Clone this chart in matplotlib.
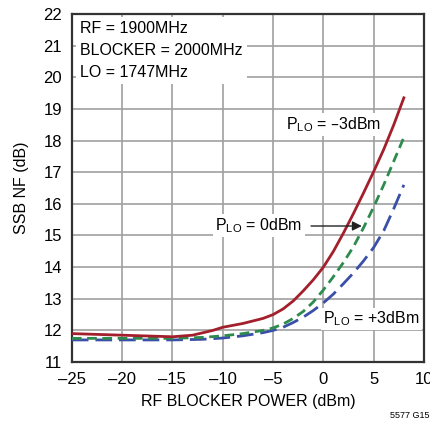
import matplotlib.pyplot as plt

plt.rcParams["font.family"] = ["Liberation Sans Narrow", "Liberation Sans", "DejaVu Sans"]

# RF blocker power (dBm) and SSB NF (dB)
x_m3 = [-25, -20, -15, -13, -11, -10, -8, -6, -5, -4, -3, -2, -1, 0, 1, 2, 3, 4, 5, 6, 7, 8]
nf_m3 = [11.9, 11.85, 11.8, 11.85, 12.0, 12.1, 12.22, 12.38, 12.5, 12.68, 12.93, 13.25, 13.6, 14.0,
         14.5, 15.08, 15.7, 16.35, 17.02, 17.72, 18.5, 19.35]

x_0 = [-25, -20, -15, -12, -10, -8, -6, -5, -4, -3, -2, -1, 0, 1, 2, 3, 4, 5, 6, 7, 8]
nf_0 = [11.75, 11.75, 11.75, 11.78, 11.83, 11.9, 12.0, 12.08, 12.2, 12.38, 12.6, 12.9, 13.28,
        13.7, 14.15, 14.65, 15.25, 15.9, 16.6, 17.35, 18.1]

x_p3 = [-25, -20, -15, -12, -10, -8, -6, -5, -4, -3, -2, -1, 0, 1, 2, 3, 4, 5, 6, 7, 8]
nf_p3 = [11.7, 11.7, 11.7, 11.72, 11.76, 11.83, 11.93, 12.0, 12.1, 12.25, 12.42, 12.63, 12.87,
         13.15, 13.48, 13.82, 14.2, 14.62, 15.15, 15.85, 16.6]

xticks = [-25, -20, -15, -10, -5, 0, 5, 10]
yticks = list(range(11, 23))

fig = plt.figure(figsize=(4.3, 4.23), dpi=100)
ax = fig.add_axes([0.167, 0.144, 0.819, 0.823])

ax.plot(x_m3, nf_m3, "-", color="#a31f2b", lw=2.0, zorder=5)
ax.plot(x_0, nf_0, "--", color="#2e8b4e", lw=2.0, dashes=(3.5, 2), zorder=4)
ax.plot(x_p3, nf_p3, "--", color="#3a4fa8", lw=2.0, dashes=(6, 2.5), zorder=3)

ax.set_xlim(-25, 10)
ax.set_ylim(11, 22)
ax.set_xticks(xticks)
ax.set_yticks(yticks)
ax.set_xticklabels([str(t).replace("-", "\u2013") for t in xticks])
ax.tick_params(length=0, labelsize=12, pad=7)
ax.grid(True, color="#a0a0a0", lw=1.2, zorder=0)
for s in ax.spines.values():
    s.set_linewidth(1.6)
    s.set_color("#333333")

ax.set_xlabel("RF BLOCKER POWER (dBm)", fontsize=11.5, labelpad=5)
ax.set_ylabel("SSB NF (dB)", fontsize=11.5, labelpad=10)

box = dict(facecolor="white", edgecolor="none", pad=1.5)
ax.text(-24.2, 21.78, "RF = 1900MHz\nBLOCKER = 2000MHz\nLO = 1747MHz",
        fontsize=11.5, va="top", ha="left", linespacing=1.6,
        bbox=dict(facecolor="white", edgecolor="none", pad=3), zorder=6)
ax.text(1.0, 18.5, "P$_{\\mathregular{LO}}$ = \u20133dBm", fontsize=11.5,
        ha="center", va="center", bbox=box, zorder=6)
ax.text(-6.4, 15.32, "P$_{\\mathregular{LO}}$ = 0dBm", fontsize=11.5,
        ha="center", va="center", bbox=box, zorder=6)
ax.text(4.8, 12.36, "P$_{\\mathregular{LO}}$ = +3dBm", fontsize=11.5,
        ha="center", va="center", bbox=box, zorder=6)
ax.annotate("", xy=(4.1, 15.3), xytext=(-1.5, 15.3),
            arrowprops=dict(arrowstyle="-|>", color="#222222", lw=1.0,
                            mutation_scale=14), zorder=7)

fig.text(0.998, 0.008, "5577 G15", fontsize=6.5, ha="right", va="bottom")

fig.savefig("out.png", dpi=100)
